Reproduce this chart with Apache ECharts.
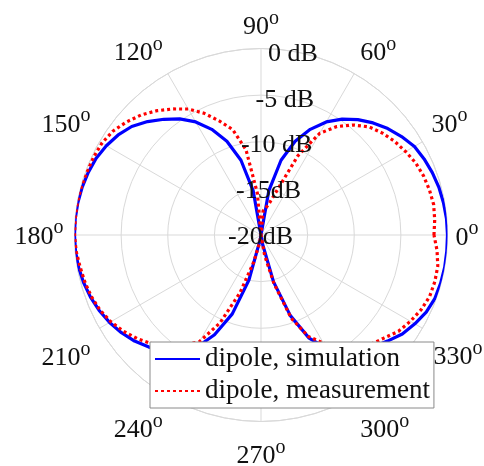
<!DOCTYPE html>
<html><head><meta charset="utf-8">
<script src="https://cdn.jsdelivr.net/npm/echarts@6/dist/echarts.min.js"></script>
<style>html,body{margin:0;padding:0;background:#fff;}#c{width:484px;height:466px;}</style>
</head><body><div id="c"></div>
<script>
// angle (deg) for both series
const angles = [0,5,10,15,20,25,30,35,40,45,50,55,60,65,70,75,80,85,90,95,100,105,110,115,120,125,130,135,140,145,150,155,160,165,170,175,180,185,190,195,200,205,210,215,220,225,230,235,240,245,250,255,260,265,270,275,280,285,290,295,300,305,310,315,320,325,330,335,340,345,350,355,360];
// dipole, simulation (dB)
const simulation = [0,-0.03,-0.13,-0.25,-0.45,-0.7,-1.0,-1.6,-2.25,-3.0,-3.84,-4.83,-6.0,-7.5,-9.3,-11.7,-15.2,-20,-20,-20,-15.2,-11.7,-9.3,-7.5,-6.0,-4.8,-3.8,-2.8,-1.9,-1.3,-0.85,-0.5,-0.3,-0.15,-0.05,0,0,-0.03,-0.13,-0.3,-0.54,-0.85,-1.25,-1.73,-2.3,-3.0,-3.8,-4.8,-6.0,-8.2,-11.0,-15.0,-19.5,-20,-20,-20,-19.0,-14.8,-10.8,-7.8,-6.0,-4.8,-3.8,-3.0,-2.3,-1.5,-0.95,-0.45,-0.15,-0.05,0,0,0];
// dipole, measurement (dB)
const measurement = [-1.45,-1.3,-1.2,-1.3,-1.45,-1.7,-2.1,-2.5,-3.0,-3.6,-4.6,-5.8,-7.4,-10.6,-14.8,-16.4,-17.1,-17.4,-20,-15.5,-10.7,-8.3,-7.0,-5.6,-4.4,-3.5,-2.6,-1.8,-1.15,-0.6,-0.3,-0.2,-0.15,-0.05,0,0,0,-0.1,-0.3,-0.45,-0.65,-0.95,-1.4,-2.0,-2.7,-3.5,-4.5,-5.6,-6.8,-9.6,-13.4,-17.0,-19.2,-20,-20,-20,-17.8,-14.6,-10.5,-8.0,-6.6,-5.2,-4.2,-3.4,-2.8,-2.0,-1.5,-1.05,-0.75,-0.7,-0.75,-1.05,-1.45];
// radial tick values and labels
const radialTicks = [0,-5,-10,-15,-20];
const radialTickLabels = ['0 dB','-5 dB','-10 dB','-15dB','-20dB'];
const radialLabelAngle = 80;
const seriesNames = ['dipole, simulation','dipole, measurement'];

// layout only: per-angle label padding [top,right,bottom,left]
const angleLabelPad = {
  0:[6,0,0,8], 30:[0,0,3,9], 60:[0,0,6,6], 90:[0,0,7,0], 120:[0,5,6,0], 150:[0,9,3,0],
  180:[4,11,0,0], 210:[16,9,0,0], 240:[20,5,0,0], 270:[21,0,0,0], 300:[20,0,0,6], 330:[15,0,0,11]
};

const serif = '"Liberation Serif","Times New Roman",serif';
const txt = '#111';
const rich = {};
Object.keys(angleLabelPad).forEach(function(k){
  const p = angleLabelPad[k];
  rich['n'+k] = {fontFamily:serif, fontSize:26, color:txt, height:28, lineHeight:28+p[0]+p[2],
                 verticalAlign:'top', padding:[p[0],0,0,p[3]]};
  rich['s'+k] = {fontFamily:serif, fontSize:20, color:txt, height:10, lineHeight:10,
                 verticalAlign:'top', padding:[p[0],p[1],0,0]};
});

const chart = echarts.init(document.getElementById('c'), null, {renderer:'canvas'});
const grid = '#d9d9d9';
chart.setOption({
  animation:false,
  backgroundColor:'#fff',
  polar:{center:[261,235], radius:186.5},
  angleAxis:{
    type:'value', min:0, max:360, interval:30, startAngle:0, clockwise:false,
    axisLine:{show:true, lineStyle:{color:grid, width:1}},
    axisTick:{show:false},
    splitLine:{show:true, lineStyle:{color:grid, width:1}},
    axisLabel:{
      margin:0,
      formatter:function(v){return '{n'+v+'|'+v+'}{s'+v+'|o}';},
      rich:rich
    }
  },
  radiusAxis:{
    type:'value', min:-20, max:0, interval:5,
    axisLine:{show:false}, axisTick:{show:false}, axisLabel:{show:false},
    splitLine:{show:true, lineStyle:{color:grid, width:1}}
  },
  legend:{
    data:seriesNames, orient:'vertical', left:150, top:342,
    backgroundColor:'#fff', borderColor:'#8a8a8a', borderWidth:1, borderRadius:0,
    padding:[2,4,2,4], itemGap:2, itemWidth:45, itemHeight:12,
    itemStyle:{opacity:0},
    textStyle:{fontFamily:serif, fontSize:27, color:txt, lineHeight:30},
    z:10
  },
  series:[
    {
      name:seriesNames[0], type:'line', coordinateSystem:'polar', showSymbol:false, symbol:'none',
      lineStyle:{color:'#0000ff', width:3.2}, itemStyle:{color:'#0000ff'},
      data:angles.map(function(a,i){return [simulation[i], a];}), z:3
    },
    {
      name:seriesNames[1], type:'line', coordinateSystem:'polar', showSymbol:false, symbol:'none',
      lineStyle:{color:'#ff0000', width:3.2, type:[3,3]}, itemStyle:{color:'#ff0000'},
      data:angles.map(function(a,i){return [measurement[i], a];}), z:4
    },
    {
      name:'rticks', type:'scatter', coordinateSystem:'polar', symbolSize:1, silent:true, z:5,
      itemStyle:{color:'rgba(0,0,0,0)'},
      emphasis:{disabled:true},
      data:radialTicks.map(function(r,i){return {value:[r, radialLabelAngle], name:radialTickLabels[i]};}),
      label:{show:true, position:[0,0], align:'center', verticalAlign:'middle', offset:[0,3],
        formatter:function(p){return p.name;},
        fontFamily:serif, fontSize:26, color:txt, textBorderWidth:0, opacity:1}
    }
  ]
});
</script></body></html>
